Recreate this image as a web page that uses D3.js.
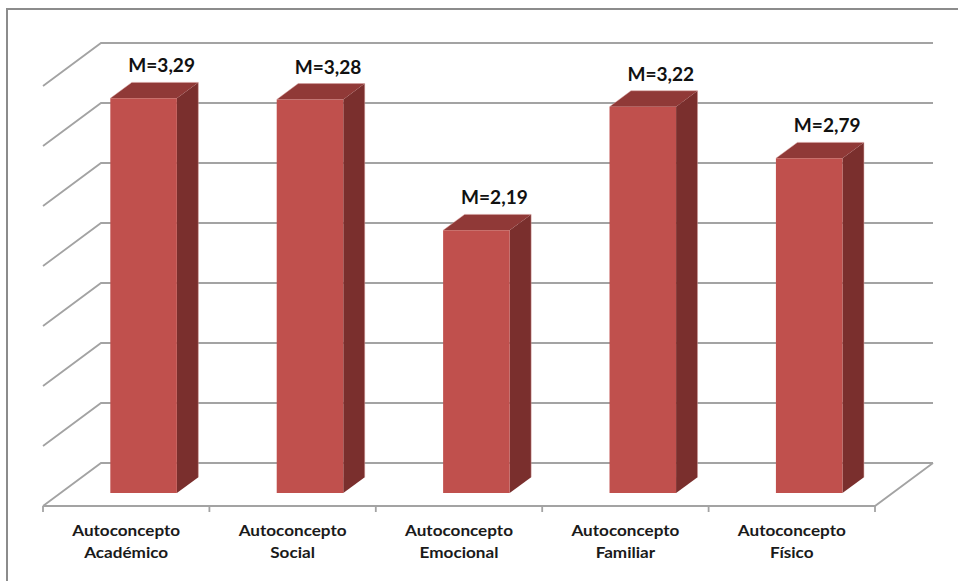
<!DOCTYPE html>
<html>
<head>
<meta charset="utf-8">
<script src="https://cdn.jsdelivr.net/npm/d3@7"></script>
<style>
  html, body { margin: 0; padding: 0; background: #fff; }
  svg { display: block; }
</style>
</head>
<body>
<svg id="chart" width="958" height="581"></svg>
<script>
// Mean scores per self-concept dimension
const categories = [
  ["Autoconcepto", "Académico"],
  ["Autoconcepto", "Social"],
  ["Autoconcepto", "Emocional"],
  ["Autoconcepto", "Familiar"],
  ["Autoconcepto", "Físico"]
];
const means = [3.29, 3.28, 2.19, 3.22, 2.79];
const valueLabels = ["M=3,29", "M=3,28", "M=2,19", "M=3,22", "M=2,79"];
const gridValues = [0, 0.5, 1, 1.5, 2, 2.5, 3, 3.5];

const svg = d3.select("#chart");

// Oblique 3D layout: front floor edge, and the offset from front to back wall
const floorLeft = 43, floorRight = 875, floorY = 506;
const depthDX = 58, depthDY = 43;
const barZ0 = 0.30, barZ1 = 0.67; // bar front/back as fraction of depth

const x = d3.scaleBand()
  .domain(d3.range(categories.length))
  .range([floorLeft, floorRight])
  .paddingInner(0.6)
  .paddingOuter(0.3);

const h = d3.scaleLinear().domain([0, 3.5]).range([0, 420]);

const proj = (px, v, z) => [px + z * depthDX, floorY - h(v) - z * depthDY];

// Outer frame
svg.append("rect")
  .attr("x", 7).attr("y", 9)
  .attr("width", 980).attr("height", 620)
  .attr("fill", "none")
  .attr("stroke", "#8c8c8c")
  .attr("stroke-width", 2);

const gridColor = "#a3a3a3";
const grid = svg.append("g")
  .attr("stroke", gridColor)
  .attr("stroke-width", 1.8)
  .attr("fill", "none");

// Back wall and side wall gridlines
gridValues.forEach(v => {
  const a = proj(floorLeft, v, 0);
  const b = proj(floorLeft, v, 1);
  const c = proj(floorRight, v, 1);
  grid.append("path").attr("d", d3.line()([a, b, c]));
});

// Floor: front edge (axis) and right edge
grid.append("path").attr("d", d3.line()([
  proj(floorLeft, 0, 0), proj(floorRight, 0, 0), proj(floorRight, 0, 1)
]));

// Category boundary ticks on the floor's front edge
const boundaries = d3.range(categories.length + 1)
  .map(i => floorLeft + i * x.step());
grid.selectAll("line.tick")
  .data(boundaries)
  .join("line")
  .attr("x1", d => d).attr("x2", d => d)
  .attr("y1", floorY).attr("y2", floorY + 6);

// Bars
const frontColor = "#c0504d", topColor = "#903937", sideColor = "#7a2f2d";
const bars = svg.append("g");
means.forEach((v, i) => {
  const xl = x(i), xr = x(i) + x.bandwidth();
  const fbl = proj(xl, 0, barZ0), ftl = proj(xl, v, barZ0);
  const fbr = proj(xr, 0, barZ0), ftr = proj(xr, v, barZ0);
  const bbr = proj(xr, 0, barZ1), btr = proj(xr, v, barZ1);
  const btl = proj(xl, v, barZ1);
  const g = bars.append("g");
  g.append("path").attr("d", d3.line()([fbr, bbr, btr, ftr]) + "Z").attr("fill", sideColor);
  g.append("path").attr("d", d3.line()([ftl, btl, btr, ftr]) + "Z").attr("fill", topColor);
  g.append("path").attr("d", d3.line()([fbl, fbr, ftr, ftl]) + "Z").attr("fill", frontColor);
  // soft highlight along the top edges
  g.append("path").attr("d", d3.line()([ftl, btl, btr, bbr]))
    .attr("fill", "none").attr("stroke", "#d9a09e").attr("stroke-width", 0.8).attr("opacity", 0.6);
});

// Value labels above each bar
const fontFam = "Lato, 'Open Sans', sans-serif";
svg.append("g")
  .selectAll("text")
  .data(valueLabels)
  .join("text")
  .attr("transform", (d, i) => {
    const cx = x(i) + x.bandwidth() / 2 + barZ0 * depthDX + 18;
    const top = proj(0, means[i], barZ0)[1] - 26;
    return `translate(${cx},${top}) scale(1.06,1)`;
  })
  .attr("text-anchor", "middle")
  .attr("font-family", fontFam)
  .attr("font-weight", 700)
  .attr("font-size", 18)
  .attr("fill", "#111")
  .text(d => d);

// Category labels below the floor
const catG = svg.append("g")
  .attr("font-family", fontFam)
  .attr("font-weight", 700)
  .attr("font-size", 16)
  .attr("fill", "#1a1a1a")
  .attr("text-anchor", "middle");
categories.forEach((lines, i) => {
  const cx = x(i) + x.bandwidth() / 2;
  const t = catG.append("text")
    .attr("transform", `translate(${cx},536) scale(1.07,1)`);
  lines.forEach((ln, k) => {
    t.append("tspan").attr("x", 0).attr("y", k * 22).text(ln);
  });
});
</script>
</body>
</html>
